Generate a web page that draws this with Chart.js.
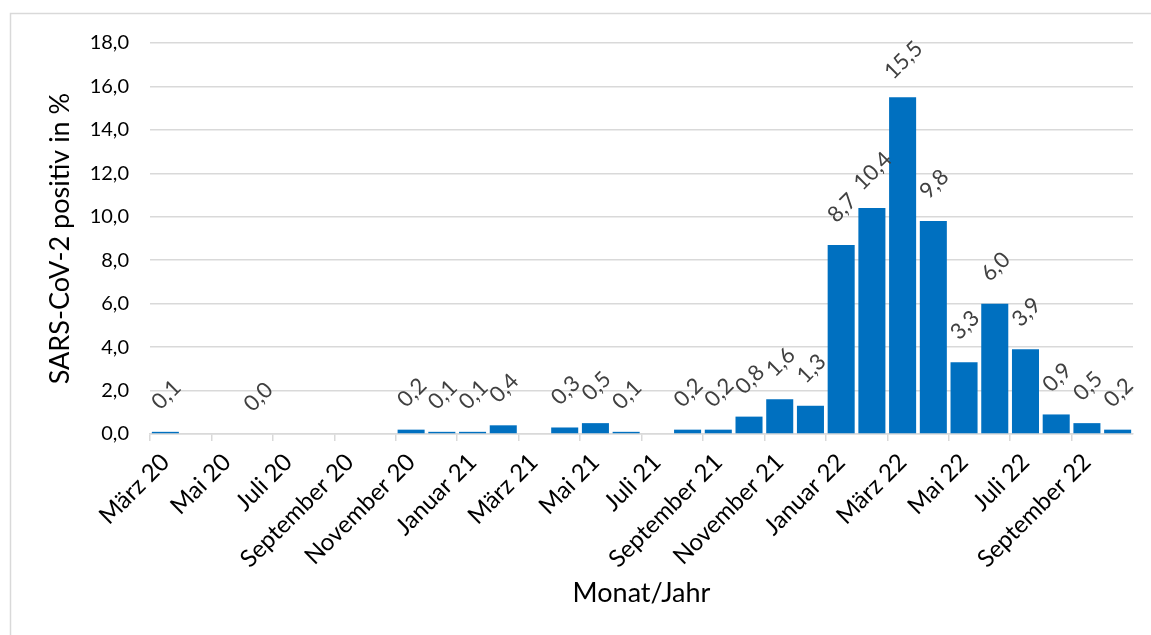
<!DOCTYPE html>
<html>
<head>
<meta charset="utf-8">
<script src="https://cdn.jsdelivr.net/npm/chart.js@4"></script>
<style>
  html, body { margin: 0; padding: 0; background: #fff; overflow: hidden; }
  #wrap { width: 1151px; height: 635px; position: relative; }
</style>
</head>
<body>
<div id="wrap"><canvas id="chart" width="1151" height="635"></canvas></div>
<script>
// Monate März 20 bis Oktober 22
const months = [
  'März 20', 'April 20', 'Mai 20', 'Juni 20', 'Juli 20', 'August 20',
  'September 20', 'Oktober 20', 'November 20', 'Dezember 20',
  'Januar 21', 'Februar 21', 'März 21', 'April 21', 'Mai 21', 'Juni 21',
  'Juli 21', 'August 21', 'September 21', 'Oktober 21', 'November 21', 'Dezember 21',
  'Januar 22', 'Februar 22', 'März 22', 'April 22', 'Mai 22', 'Juni 22',
  'Juli 22', 'August 22', 'September 22', 'Oktober 22'
];
// Anteil SARS-CoV-2 positiv in % (null = kein Wert)
const positive = [
  0.1, null, null, 0.0, null, null, null, null, 0.2, 0.1,
  0.1, 0.4, null, 0.3, 0.5, 0.1, null, 0.2, 0.2, 0.8, 1.6, 1.3,
  8.7, 10.4, 15.5, 9.8, 3.3, 6.0, 3.9, 0.9, 0.5, 0.2
];
const yMin = 0;
const yMax = 18;
const yStep = 2;

const FONT = 'Lato, "Open Sans", sans-serif';
const GRID = '#d9d9d9';
const TEXT = '#404040';

function komma(v) {
  return v.toFixed(1).replace('.', ',');
}

// Rahmen um das Diagramm
const frame = {
  id: 'frame',
  beforeDraw(chart) {
    const c = chart.ctx;
    c.save();
    c.strokeStyle = GRID;
    c.lineWidth = 1.5;
    c.strokeRect(10.5, 13.5, 1300, 800);
    c.restore();
  }
};

// Werte über den Balken, um 45° gedreht
const barLabels = {
  id: 'barLabels',
  afterDatasetsDraw(chart) {
    const c = chart.ctx;
    const meta = chart.getDatasetMeta(0);
    c.save();
    c.font = '22px ' + FONT;
    c.fillStyle = TEXT;
    c.textAlign = 'center';
    c.textBaseline = 'middle';
    meta.data.forEach(function(bar, i) {
      const v = positive[i];
      if (v === null) return;
      c.save();
      c.translate(bar.x + 1, bar.y - 37);
      c.rotate(-Math.PI / 4);
      c.fillText(komma(v), 0, 0);
      c.restore();
    });
    c.restore();
  }
};

new Chart(document.getElementById('chart'), {
  type: 'bar',
  data: {
    labels: months,
    datasets: [{
      data: positive,
      backgroundColor: '#0070c0',
      borderWidth: 0,
      barPercentage: 0.88,
      categoryPercentage: 1
    }]
  },
  options: {
    responsive: false,
    animation: false,
    layout: { padding: { left: 40, top: 43, right: 18, bottom: 22 } },
    plugins: {
      legend: { display: false },
      tooltip: { enabled: false }
    },
    scales: {
      x: {
        offset: true,
        grid: {
          offset: true,
          drawOnChartArea: false,
          tickLength: 7,
          lineWidth: 1.5,
          color: function(ctx) { return ctx.index % 2 === 0 ? GRID : 'rgba(0,0,0,0)'; }
        },
        border: { color: GRID, width: 1.5 },
        ticks: {
          autoSkip: false,
          minRotation: 45,
          maxRotation: 45,
          padding: 7,
          color: '#000',
          font: { family: FONT, size: 24 },
          callback: function(val, i) { return i % 2 === 0 ? months[i] : ''; }
        },
        title: {
          display: true,
          text: 'Monat/Jahr',
          color: '#000',
          font: { family: FONT, size: 27 }
        },
        afterFit: function(scale) { scale.height = 179; }
      },
      y: {
        min: yMin,
        max: yMax,
        grid: { color: GRID, lineWidth: 1.5, drawTicks: false },
        border: { display: false },
        ticks: {
          stepSize: yStep,
          padding: 21,
          color: '#000',
          font: { family: FONT, size: 20 },
          callback: function(v) { return komma(v); }
        },
        title: {
          display: true,
          text: 'SARS-CoV-2 positiv in %',
          color: '#000',
          font: { family: FONT, size: 27 }
        },
        afterFit: function(scale) { scale.width = 110; }
      }
    }
  },
  plugins: [frame, barLabels]
});
</script>
</body>
</html>
